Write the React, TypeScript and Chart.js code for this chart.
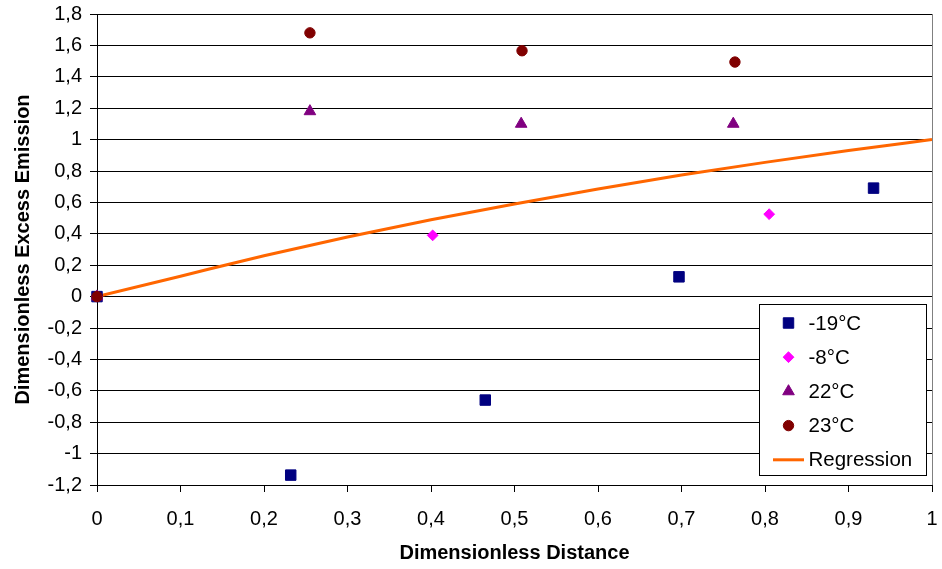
import React, { useEffect, useRef } from 'react';
import { Chart, registerables } from 'chart.js';
import { drawPoint } from 'chart.js/helpers';

Chart.register(...registerables);

// ---- data ----
const seriesLabels = ['-19°C', '-8°C', '22°C', '23°C'];
const regressionLabel = 'Regression';

const m19X = [0, 0.232, 0.465, 0.697, 0.93];
const m19Y = [0, -1.137, -0.659, 0.126, 0.691];

const m8X = [0, 0.402, 0.805];
const m8Y = [0, 0.39, 0.525];

const p22X = [0, 0.255, 0.508, 0.762];
const p22Y = [0, 1.18, 1.1, 1.1];

const p23X = [0, 0.255, 0.509, 0.764];
const p23Y = [0, 1.68, 1.566, 1.494];

const regX = [0, 0.1, 0.2, 0.3, 0.4, 0.5, 0.6, 0.7, 0.8, 0.9, 1.0];
const regY = [0, 0.13, 0.26, 0.38, 0.49, 0.59, 0.685, 0.775, 0.855, 0.93, 1.0];

const xMin = 0;
const xMax = 1;
const xStep = 0.1;
const yMin = -1.2;
const yMax = 1.8;
const yStep = 0.2;

const xTitle = 'Dimensionless Distance';
const yTitle = 'Dimensionless Excess Emission';

const toPts = (xs: number[], ys: number[]) => xs.map((x, i) => ({ x, y: ys[i] }));
const fmt = (v: number) => String(Math.round(v * 10) / 10).replace('.', ',');

const FONT = "'Liberation Sans', Arial, sans-serif";

const legendPlugin = {
  id: 'boxLegend',
  beforeDatasetsDraw(chart: any) {
    const { ctx, chartArea } = chart;
    ctx.save();
    ctx.strokeStyle = '#808080';
    ctx.lineWidth = 1;
    ctx.beginPath();
    ctx.moveTo(Math.round(chartArea.right) + 0.5, chartArea.top);
    ctx.lineTo(Math.round(chartArea.right) + 0.5, chartArea.bottom);
    ctx.stroke();
    ctx.restore();
  },
  afterDraw(chart: any) {
    const { ctx, chartArea } = chart;
    const w = 167;
    const h = 171;
    const left = Math.round(chartArea.right - 6 - w) + 0.5;
    const top = Math.round(chartArea.bottom - 10 - h) + 0.5;
    ctx.save();
    ctx.fillStyle = '#ffffff';
    ctx.fillRect(left, top, w, h);
    ctx.strokeStyle = '#000000';
    ctx.lineWidth = 1;
    ctx.strokeRect(left, top, w, h);
    const dsets = chart.data.datasets;
    dsets.forEach((ds: any, i: number) => {
      const cy = top + 18.5 + i * 34.2;
      if (ds.showLine) {
        ctx.strokeStyle = ds.borderColor;
        ctx.lineWidth = ds.borderWidth;
        ctx.beginPath();
        ctx.moveTo(left + 13.5, cy);
        ctx.lineTo(left + 44.5, cy);
        ctx.stroke();
      } else {
        ctx.fillStyle = ds.backgroundColor;
        ctx.strokeStyle = ds.borderColor;
        ctx.lineWidth = 1;
        drawPoint(ctx, { pointStyle: ds.pointStyle, rotation: 0, radius: ds.pointRadius, borderWidth: 1 }, left + 29, cy);
      }
      ctx.fillStyle = '#000000';
      ctx.font = `20.5px ${FONT}`;
      ctx.textAlign = 'left';
      ctx.textBaseline = 'middle';
      ctx.fillText(ds.label, left + 49, cy + 1);
    });
    ctx.restore();
  },
};

export default function App() {
  const ref = useRef<HTMLCanvasElement | null>(null);

  useEffect(() => {
    document.body.style.margin = '0';
    const canvas = ref.current;
    if (!canvas) return;
    const chart = new Chart(canvas, {
      type: 'scatter',
      data: {
        datasets: [
          {
            label: seriesLabels[0],
            data: toPts(m19X, m19Y),
            pointStyle: 'rect',
            pointRadius: 7.4,
            backgroundColor: '#000080',
            borderColor: '#000080',
            borderWidth: 1,
            showLine: false,
            clip: false,
            order: 4,
          },
          {
            label: seriesLabels[1],
            data: toPts(m8X, m8Y),
            pointStyle: 'rectRot',
            pointRadius: 5.4,
            backgroundColor: '#FF00FF',
            borderColor: '#FF00FF',
            borderWidth: 1,
            showLine: false,
            clip: false,
            order: 3,
          },
          {
            label: seriesLabels[2],
            data: toPts(p22X, p22Y),
            pointStyle: 'triangle',
            pointRadius: 6.7,
            backgroundColor: '#800080',
            borderColor: '#800080',
            borderWidth: 1,
            showLine: false,
            clip: false,
            order: 2,
          },
          {
            label: seriesLabels[3],
            data: toPts(p23X, p23Y),
            pointStyle: 'circle',
            pointRadius: 5.2,
            backgroundColor: '#800000',
            borderColor: '#800000',
            borderWidth: 1,
            showLine: false,
            clip: false,
            order: 1,
          },
          {
            label: regressionLabel,
            data: toPts(regX, regY),
            showLine: true,
            pointRadius: 0,
            borderColor: '#FF6600',
            backgroundColor: '#FF6600',
            borderWidth: 3,
            cubicInterpolationMode: 'monotone',
            order: 5,
          } as any,
        ],
      },
      options: {
        animation: false,
        responsive: true,
        maintainAspectRatio: false,
        layout: { padding: { left: 0, right: 10, top: 14, bottom: 0 } },
        plugins: {
          legend: { display: false },
          tooltip: { enabled: false },
        },
        scales: {
          x: {
            type: 'linear',
            min: xMin,
            max: xMax,
            afterFit: (s: any) => {
              s.height = 84;
              s.paddingLeft = 0;
              s.paddingRight = 0;
            },
            ticks: {
              stepSize: xStep,
              callback: (v: any) => fmt(Number(v)),
              color: '#000',
              font: { family: FONT, size: 20 },
              padding: 15,
              maxRotation: 0,
            },
            grid: {
              drawOnChartArea: false,
              drawTicks: true,
              tickLength: 7,
              color: '#000',
            },
            border: { color: '#000', width: 1 },
            title: {
              display: true,
              text: xTitle,
              color: '#000',
              font: { family: FONT, size: 20, weight: 'bold' },
              padding: { top: 0, bottom: 4 },
            },
          },
          y: {
            type: 'linear',
            min: yMin,
            max: yMax,
            afterFit: (s: any) => {
              s.width = 97;
              s.paddingTop = 0;
              s.paddingBottom = 0;
            },
            ticks: {
              stepSize: yStep,
              callback: (v: any) => fmt(Number(v)),
              color: '#000',
              font: { family: FONT, size: 20 },
              padding: 8,
            },
            grid: {
              drawOnChartArea: true,
              drawTicks: true,
              tickLength: 7,
              color: '#000',
              lineWidth: 1,
            },
            border: { color: '#000', width: 1 },
            title: {
              display: true,
              text: yTitle,
              color: '#000',
              font: { family: FONT, size: 20, weight: 'bold' },
              padding: { top: 11, bottom: 0 },
            },
          },
        },
      },
      plugins: [legendPlugin],
    });
    return () => chart.destroy();
  }, []);

  return (
    <div style={{ position: 'relative', width: '942px', height: '569px' }}>
      <canvas ref={ref} />
    </div>
  );
}
